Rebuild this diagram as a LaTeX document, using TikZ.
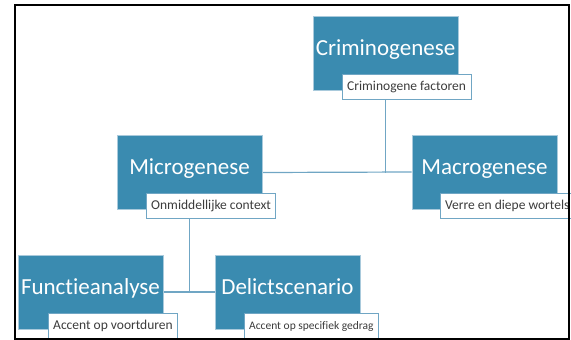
\documentclass[tikz,border=0pt]{standalone}
\usepackage{fontspec}
\setmainfont[Ligatures=NoCommon]{Carlito}
\usepackage{xcolor}
\definecolor{genBlue}{RGB}{58, 139, 176}
\definecolor{lineBlue}{RGB}{112, 166, 196}
\definecolor{subGray}{RGB}{60, 60, 60}
\usepackage{tikz}
\usetikzlibrary{positioning,shapes,backgrounds}

\tikzset{
  genbox/.style={fill=genBlue, draw=lineBlue!60, line width=0.6pt, text=white, minimum width=145pt, minimum height=74pt, inner sep=0pt, text height=16pt, text depth=12pt, font=\fontsize{23}{26}\selectfont},
  subbox/.style={fill=white, draw=lineBlue, line width=1pt, text=subGray, minimum height=25pt, inner xsep=5pt, inner ysep=0pt, anchor=north west, font=\fontsize{13.5}{15}\selectfont},
  link/.style={draw=lineBlue, line width=1.2pt}
}

\begin{document}
\begin{tikzpicture}[x=1pt, y=-1pt]
\useasboundingbox (0,0) rectangle (571,340);

% hoofdblokken
\node[genbox] (crim) at (385.5,53) {Criminogenese};
\node[genbox] (micro) at (189.5,172.5) {Microgenese};
\node[genbox] (macro) at (484.5,172) {Macrogenese};
\node[genbox] (func) at (90.5,292) {Functieanalyse};
\node[genbox] (delict) at (287.5,292) {Delictscenario};

% toelichtingen
\node[subbox] (crimsub) at ([xshift=29pt, yshift=16pt]crim.south west) {Criminogene factoren};
\node[subbox] (microsub) at ([xshift=29pt, yshift=17pt]micro.south west) {Onmiddellijke context};
\node[subbox] (macrosub) at ([xshift=28pt, yshift=16pt]macro.south west) {Verre en diepe wortels};
\node[subbox] (funcsub) at ([xshift=30pt, yshift=16pt]func.south west) {Accent op voortduren};
\node[subbox, font=\fontsize{11.5}{13}\selectfont] (delictsub) at ([xshift=29pt, yshift=16pt]delict.south west) {Accent op specifiek gedrag};

% verbindingen
\coordinate (top) at (crim.south |- micro.east);
\coordinate (bottom) at (micro.south |- func.east);
\begin{scope}[on background layer]
\draw[link] (crim.center) -- (top);
\draw[link] (micro.east) -- (macro.west);
\draw[link] (micro.center) -- (bottom);
\draw[link] (func.east) -- (delict.west);
\end{scope}

% kader
\draw[black, line width=2pt] (15,5) rectangle (569,339);
\end{tikzpicture}
\end{document}
